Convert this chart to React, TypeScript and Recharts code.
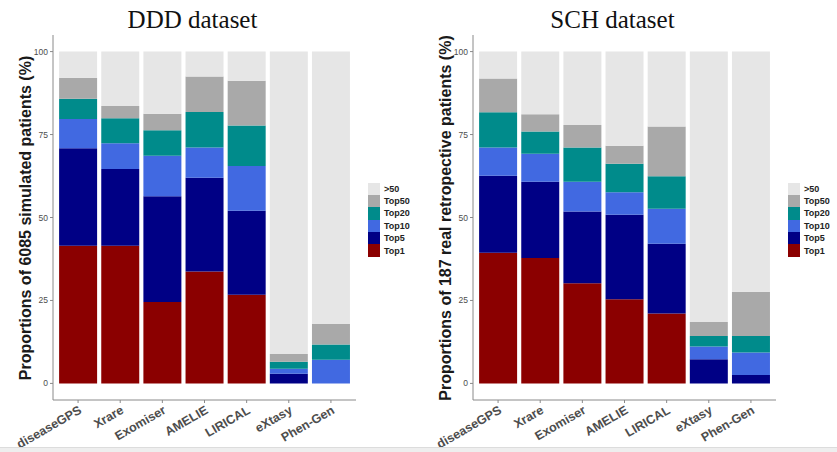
import React from 'react';
import { BarChart, Bar, XAxis, YAxis } from 'recharts';

const tools = ['diseaseGPS', 'Xrare', 'Exomiser', 'AMELIE', 'LIRICAL', 'eXtasy', 'Phen-Gen'];

// segment sizes (%) per rank bucket, DDD dataset
const dddTop1 = [41.5, 41.5, 24.5, 33.7, 26.7, 0, 0];
const dddTop5 = [29.4, 23.1, 31.9, 28.3, 25.3, 2.9, 0];
const dddTop10 = [8.8, 7.8, 12.2, 9.1, 13.5, 1.5, 7.1];
const dddTop20 = [6.1, 7.5, 7.7, 10.7, 12.2, 2.1, 4.6];
const dddTop50 = [6.3, 3.7, 5.0, 10.7, 13.5, 2.4, 6.2];
const dddOver50 = [7.9, 16.4, 18.7, 7.5, 8.8, 91.1, 82.1];

// SCH dataset
const schTop1 = [39.4, 37.8, 30.2, 25.4, 21.1, 0, 0];
const schTop5 = [23.2, 23.0, 21.6, 25.4, 21.0, 7.3, 2.5];
const schTop10 = [8.5, 8.4, 9.0, 6.8, 10.5, 3.8, 6.8];
const schTop20 = [10.6, 6.7, 10.3, 8.6, 9.8, 3.2, 5.0];
const schTop50 = [10.2, 5.2, 6.8, 5.4, 15.0, 4.2, 13.3];
const schOver50 = [8.1, 18.9, 22.1, 28.4, 22.6, 81.5, 72.4];

const yTicks = [0, 25, 50, 75, 100];

// bottom of stack first
const series = [
  { key: 'top1', name: 'Top1', color: '#8B0000' },
  { key: 'top5', name: 'Top5', color: '#000085' },
  { key: 'top10', name: 'Top10', color: '#4169E1' },
  { key: 'top20', name: 'Top20', color: '#008B8B' },
  { key: 'top50', name: 'Top50', color: '#A9A9A9' },
  { key: 'over50', name: '>50', color: '#E6E6E6' },
];

function buildRows(cols: number[][]) {
  return tools.map((tool, i) => {
    const row: Record<string, any> = { tool };
    series.forEach((s, j) => {
      row[s.key] = cols[j][i];
    });
    return row;
  });
}

const dddData = buildRows([dddTop1, dddTop5, dddTop10, dddTop20, dddTop50, dddOver50]);
const schData = buildRows([schTop1, schTop5, schTop10, schTop20, schTop50, schOver50]);

const axisColor = '#8a8a8a';
const tickColor = '#4d4d4d';

function ToolTick(props: any) {
  const { x, y, payload } = props;
  return (
    <g transform={`translate(${x},${y})`}>
      <text
        transform="rotate(-30)"
        textAnchor="end"
        dy="0.7em"
        fill={tickColor}
        fontSize={12.5}
        fontWeight="bold"
        fontFamily="Arial, 'Liberation Sans', sans-serif"
      >
        {payload.value}
      </text>
    </g>
  );
}

function Panel({ data, title, yLabel, left }: { data: any[]; title: string; yLabel: string; left: number }) {
  return (
    <div style={{ position: 'absolute', left, top: 0, width: 420, height: 452 }}>
      <div
        style={{
          position: 'absolute',
          left: 0,
          width: 385,
          top: 5,
          textAlign: 'center',
          fontFamily: "'Liberation Serif', 'Times New Roman', serif",
          fontSize: 25,
          color: '#111',
          lineHeight: '30px',
        }}
      >
        {title}
      </div>
      <div
        style={{
          position: 'absolute',
          left: 26,
          top: 217.5,
          transform: 'translate(-50%, -50%) rotate(-90deg)',
          whiteSpace: 'nowrap',
          fontFamily: "Arial, 'Liberation Sans', sans-serif",
          fontWeight: 'bold',
          fontSize: 16,
          color: '#1a1a1a',
        }}
      >
        {yLabel}
      </div>
      <div style={{ position: 'absolute', left: 0, top: 0 }}>
        <BarChart
          width={420}
          height={452}
          data={data}
          margin={{ top: 35, right: 64, bottom: 0, left: 0 }}
          barCategoryGap="5%"
        >
          <XAxis
            dataKey="tool"
            padding={{ left: 4, right: 4 }}
            axisLine={{ stroke: axisColor }}
            tickLine={{ stroke: axisColor }}
            tickSize={3}
            tickMargin={2}
            interval={0}
            height={52}
            tick={<ToolTick />}
          />
          <YAxis
            width={53}
            domain={[-5, 105]}
            ticks={yTicks}
            allowDataOverflow
            axisLine={{ stroke: axisColor }}
            tickLine={{ stroke: axisColor }}
            tickSize={3}
            tickMargin={2}
            tick={{ fill: tickColor, fontSize: 8.5, fontFamily: "Arial, 'Liberation Sans', sans-serif" }}
          />
          {series.map((s) => (
            <Bar key={s.key} dataKey={s.key} stackId="a" fill={s.color} isAnimationActive={false} />
          ))}
        </BarChart>
      </div>
      <div style={{ position: 'absolute', left: 368, top: 182.5 }}>
        {[...series].reverse().map((s) => (
          <div key={s.key} style={{ display: 'flex', alignItems: 'center', height: 12.4 }}>
            <div style={{ width: 12, height: 12.4, background: s.color }} />
            <span
              style={{
                marginLeft: 4,
                fontFamily: "Arial, 'Liberation Sans', sans-serif",
                fontWeight: 'bold',
                fontSize: 9,
                color: '#222',
              }}
            >
              {s.name}
            </span>
          </div>
        ))}
      </div>
    </div>
  );
}

export default function App() {
  return (
    <div style={{ position: 'absolute', left: 0, top: 0, width: 837, height: 452, background: '#fff', overflow: 'hidden' }}>
      <Panel data={dddData} title="DDD dataset" yLabel="Proportions of 6085 simulated patients (%)" left={0} />
      <Panel data={schData} title="SCH dataset" yLabel="Proportions of 187 real retropective patients (%)" left={420} />
      <div style={{ position: 'absolute', left: 0, top: 447, width: 837, height: 5, background: '#eeeeee', borderTop: '1px solid #dcdcdc' }} />
    </div>
  );
}
